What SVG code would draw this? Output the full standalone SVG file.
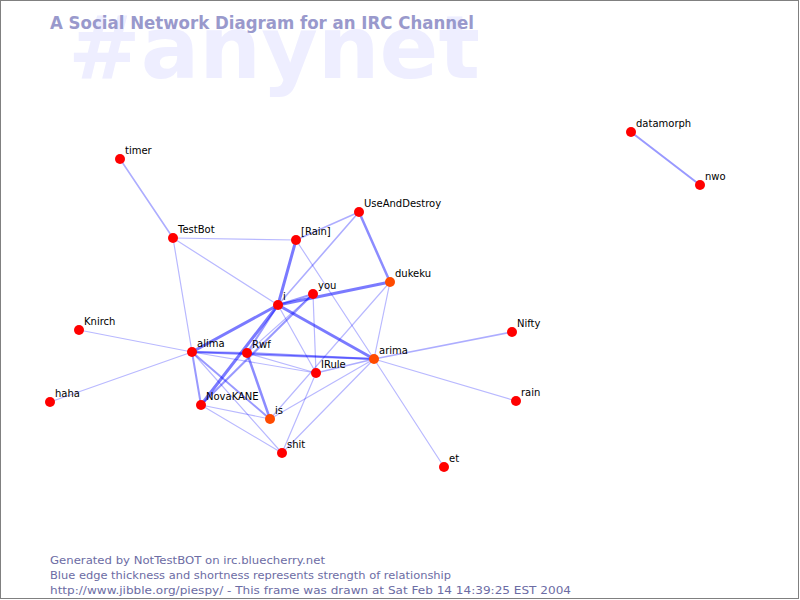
<svg xmlns="http://www.w3.org/2000/svg" width="800" height="600" viewBox="0 0 800 600">
<style>
.e{stroke:#0000ff;stroke-linecap:round;fill:none}
.w1{stroke-width:1.2;stroke-opacity:.28}
.w15{stroke-width:1.6;stroke-opacity:.32}
.w2{stroke-width:2;stroke-opacity:.4}
.w25{stroke-width:2.5;stroke-opacity:.45}
.w3{stroke-width:3;stroke-opacity:.52}
.n{fill:#ff0000}
.o{fill:#ff4a00}
.l{font-family:"DejaVu Sans",sans-serif;font-size:10px;fill:#000}
.foot{font-family:"DejaVu Sans",sans-serif;font-size:11px;fill:#6c6ca4}
</style>
<rect x="0.5" y="0.5" width="798" height="598" fill="#ffffff" stroke="#808080"/>
<text x="68" y="78" font-family="DejaVu Sans,sans-serif" font-weight="bold" font-size="88" fill="#eeeeff" textLength="412" lengthAdjust="spacingAndGlyphs">#anynet</text>
<text x="50" y="29" font-family="DejaVu Sans,sans-serif" font-weight="bold" font-size="17" fill="#9999cc" textLength="424" lengthAdjust="spacingAndGlyphs">A Social Network Diagram for an IRC Channel</text>
<g id="connectors">
<line class="e w15" x1="120" y1="159" x2="173" y2="238"/>
<line class="e w1" x1="173" y1="238" x2="296" y2="240"/>
<line class="e w1" x1="173" y1="238" x2="278" y2="305"/>
<line class="e w1" x1="173" y1="238" x2="192" y2="352"/>
<line class="e w15" x1="296" y1="240" x2="359" y2="212"/>
<line class="e w3" x1="296" y1="240" x2="278" y2="305"/>
<line class="e w1" x1="296" y1="240" x2="374" y2="359"/>
<line class="e w15" x1="359" y1="212" x2="278" y2="305"/>
<line class="e w25" x1="359" y1="212" x2="390" y2="282"/>
<line class="e w2" x1="278" y1="305" x2="313" y2="294"/>
<line class="e w3" x1="278" y1="305" x2="390" y2="282"/>
<line class="e w3" x1="278" y1="305" x2="374" y2="359"/>
<line class="e w3" x1="278" y1="305" x2="192" y2="352"/>
<line class="e w2" x1="278" y1="305" x2="247" y2="353"/>
<line class="e w3" x1="278" y1="305" x2="201" y2="405"/>
<line class="e w1" x1="278" y1="305" x2="316" y2="373"/>
<line class="e w1" x1="313" y1="294" x2="316" y2="373"/>
<line class="e w2" x1="313" y1="294" x2="201" y2="405"/>
<line class="e w1" x1="313" y1="294" x2="247" y2="353"/>
<line class="e w1" x1="390" y1="282" x2="374" y2="359"/>
<line class="e w1" x1="390" y1="282" x2="270" y2="419"/>
<line class="e w2" x1="192" y1="352" x2="247" y2="353"/>
<line class="e w2" x1="192" y1="352" x2="374" y2="359"/>
<line class="e w1" x1="192" y1="352" x2="316" y2="373"/>
<line class="e w2" x1="192" y1="352" x2="201" y2="405"/>
<line class="e w2" x1="192" y1="352" x2="270" y2="419"/>
<line class="e w1" x1="192" y1="352" x2="282" y2="453"/>
<line class="e w2" x1="247" y1="353" x2="374" y2="359"/>
<line class="e w1" x1="247" y1="353" x2="316" y2="373"/>
<line class="e w25" x1="247" y1="353" x2="270" y2="419"/>
<line class="e w15" x1="316" y1="373" x2="374" y2="359"/>
<line class="e w1" x1="316" y1="373" x2="282" y2="453"/>
<line class="e w1" x1="374" y1="359" x2="270" y2="419"/>
<line class="e w1" x1="374" y1="359" x2="282" y2="453"/>
<line class="e w15" x1="374" y1="359" x2="512" y2="332"/>
<line class="e w1" x1="374" y1="359" x2="516" y2="401"/>
<line class="e w1" x1="374" y1="359" x2="444" y2="467"/>
<line class="e w1" x1="79" y1="330" x2="192" y2="352"/>
<line class="e w1" x1="50" y1="402" x2="192" y2="352"/>
<line class="e w1" x1="201" y1="405" x2="270" y2="419"/>
<line class="e w1" x1="201" y1="405" x2="282" y2="453"/>
<line class="e w2" x1="631" y1="132" x2="700" y2="185"/>
</g>
<g id="node-timer"><circle class="n" cx="120" cy="159" r="5"/><text class="l" x="125" y="154">timer</text></g>
<g id="node-TestBot"><circle class="n" cx="173" cy="238" r="5"/><text class="l" x="178" y="233">TestBot</text></g>
<g id="node-Rain"><circle class="n" cx="296" cy="240" r="5"/><text class="l" x="301" y="235">[Rain]</text></g>
<g id="node-UseAndDestroy"><circle class="n" cx="359" cy="212" r="5"/><text class="l" x="364" y="207">UseAndDestroy</text></g>
<g id="node-dukeku"><circle class="o" cx="390" cy="282" r="5"/><text class="l" x="395" y="277">dukeku</text></g>
<g id="node-you"><circle class="n" cx="313" cy="294" r="5"/><text class="l" x="318" y="289">you</text></g>
<g id="node-i"><circle class="n" cx="278" cy="305" r="5"/><text class="l" x="283" y="300">i</text></g>
<g id="node-Knirch"><circle class="n" cx="79" cy="330" r="5"/><text class="l" x="84" y="325">Knirch</text></g>
<g id="node-alima"><circle class="n" cx="192" cy="352" r="5"/><text class="l" x="197" y="347">alima</text></g>
<g id="node-Rwf"><circle class="n" cx="247" cy="353" r="5"/><text class="l" x="252" y="348">Rwf</text></g>
<g id="node-IRule"><circle class="n" cx="316" cy="373" r="5"/><text class="l" x="321" y="368">IRule</text></g>
<g id="node-arima"><circle class="o" cx="374" cy="359" r="5"/><text class="l" x="379" y="354">arima</text></g>
<g id="node-Nifty"><circle class="n" cx="512" cy="332" r="5"/><text class="l" x="517" y="327">Nifty</text></g>
<g id="node-rain"><circle class="n" cx="516" cy="401" r="5"/><text class="l" x="521" y="396">rain</text></g>
<g id="node-haha"><circle class="n" cx="50" cy="402" r="5"/><text class="l" x="55" y="397">haha</text></g>
<g id="node-NovaKANE"><circle class="n" cx="201" cy="405" r="5"/><text class="l" x="206" y="400">NovaKANE</text></g>
<g id="node-is"><circle class="o" cx="270" cy="419" r="5"/><text class="l" x="275" y="414">is</text></g>
<g id="node-shit"><circle class="n" cx="282" cy="453" r="5"/><text class="l" x="287" y="448">shit</text></g>
<g id="node-et"><circle class="n" cx="444" cy="467" r="5"/><text class="l" x="449" y="462">et</text></g>
<g id="node-datamorph"><circle class="n" cx="631" cy="132" r="5"/><text class="l" x="636" y="127">datamorph</text></g>
<g id="node-nwo"><circle class="n" cx="700" cy="185" r="5"/><text class="l" x="705" y="180">nwo</text></g>
<text class="foot" x="50" y="564" textLength="275" lengthAdjust="spacingAndGlyphs">Generated by NotTestBOT on irc.bluecherry.net</text>
<text class="foot" x="50" y="579" textLength="401" lengthAdjust="spacingAndGlyphs">Blue edge thickness and shortness represents strength of relationship</text>
<text class="foot" x="50" y="594" textLength="521" lengthAdjust="spacingAndGlyphs">http://www.jibble.org/piespy/ - This frame was drawn at Sat Feb 14 14:39:25 EST 2004</text>
</svg>
